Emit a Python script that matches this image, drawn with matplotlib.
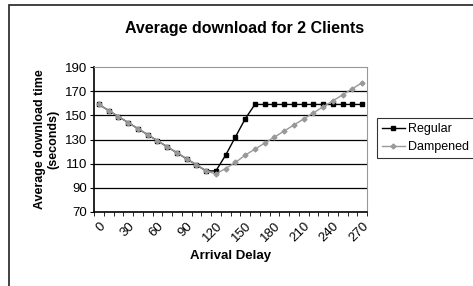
import numpy as np
import matplotlib
matplotlib.use("Agg")
import matplotlib.pyplot as plt
import matplotlib.patches as patches

plt.rcParams['font.family'] = ['Liberation Sans', 'DejaVu Sans']

delays = list(range(0, 280, 10))
regular = [159, 154, 149, 144, 139, 134, 129, 124, 119, 114, 109, 104, 104,
           117, 132, 147, 159, 159, 159, 159, 159, 159, 159, 159, 159, 159,
           159, 159]
dampened = [159, 154, 149, 144, 139, 134, 129, 124, 119, 114, 109, 104, 101.5,
            106, 111, 117, 122, 127, 132, 137, 142, 147, 152, 157, 162, 167,
            172, 177]
yticks = [70, 90, 110, 130, 150, 170, 190]

W, H = 473, 286
fig = plt.figure(figsize=(W / 100, H / 100), dpi=100)

# outer chart border (only top/left show in the crop)
fig.add_artist(patches.Rectangle((9 / W, -0.1), 1.2, (1 - 5 / H) + 0.1,
                                 transform=fig.transFigure, fill=False,
                                 edgecolor='#333333', linewidth=1.3))

ax = fig.add_axes([94 / W, 1 - 212 / H, (367 - 94) / W, (212 - 67) / H])

x = np.arange(len(delays))
ax.plot(x, regular, color='black', linewidth=1, marker='s', markersize=3,
        label='Regular', zorder=3)
ax.plot(x, dampened, color='#999999', linewidth=1, marker='D', markersize=2.5,
        label='Dampened', zorder=4)

ax.set_xlim(-0.5, len(delays) - 0.5)
ax.set_ylim(70, 190)
ax.set_yticks(yticks)
ax.tick_params(axis='y', direction='out', length=3, labelsize=9.5, pad=2)
for yv in yticks[1:-1]:
    ax.axhline(yv, color='black', linewidth=0.9, zorder=1)

ax.set_xticks(x[::3])
ax.set_xticklabels([str(d) for d in delays[::3]], rotation=45, ha='right',
                   va='top', rotation_mode='anchor', fontsize=9.5)
ax.tick_params(axis='x', which='major', length=0, pad=6)
ax.set_xticks(np.arange(len(delays) + 1) - 0.5, minor=True)
ax.tick_params(axis='x', which='minor', direction='out', length=3)

for s in ['top', 'right']:
    ax.spines[s].set_color('#999999')
for s in ['left', 'bottom']:
    ax.spines[s].set_linewidth(1.2)

ax.set_xlabel('Arrival Delay', fontweight='bold', fontsize=9.5, labelpad=4)
ax.set_ylabel('Average download time\n(seconds)', fontweight='bold',
              fontsize=9, labelpad=4, linespacing=1.1)

fig.text(245 / W, 1 - 28 / H, 'Average download for 2 Clients',
         ha='center', va='center', fontweight='bold', fontsize=11.5)

leg = ax.legend(loc='upper left', bbox_to_anchor=(377 / W, 1 - 118 / H),
                bbox_transform=fig.transFigure, fontsize=9, frameon=True,
                fancybox=False, edgecolor='black', handlelength=1.8,
                handletextpad=0.25, borderpad=0.4, labelspacing=0.5,
                borderaxespad=0)
leg.get_frame().set_linewidth(0.8)

fig.savefig('out.png', dpi=100)
